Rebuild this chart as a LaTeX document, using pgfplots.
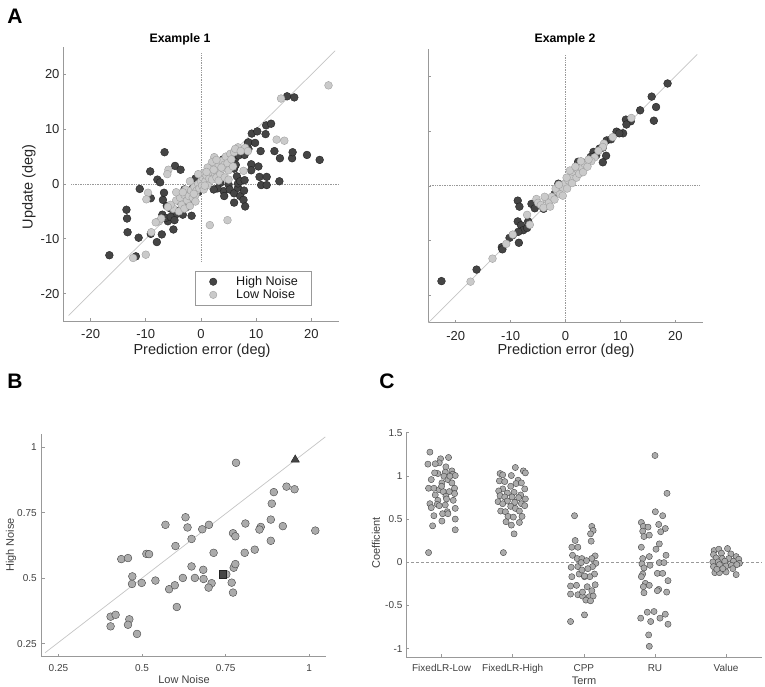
\documentclass[border=0pt]{standalone}
\usepackage{pgfplots}
\pgfplotsset{compat=1.18}
\usepackage{fontspec}
\setmainfont{Liberation Sans}

\definecolor{dk}{HTML}{454545}
\definecolor{dkedge}{HTML}{222222}
\definecolor{lt}{HTML}{CACACA}
\definecolor{ltedge}{HTML}{A0A0A0}
\definecolor{md}{HTML}{ABABAB}
\definecolor{mdedge}{HTML}{444444}
\definecolor{axc}{HTML}{999999}
\definecolor{refl}{HTML}{C4C4C4}

\pgfplotsset{
  mystyle/.style={
    scale only axis,
    axis x line*=bottom, axis y line*=left,
    axis line style={-, axc, line width=0.8pt},
    tick align=inside, major tick length=3pt,
    tick style={axc, line width=0.6pt},
    /pgf/number format/assume math mode=true,
    ticklabel style={text=black!85},
    clip=false,
  },
  hi/.style={only marks, mark=*, mark size=3.9pt, mark options={fill=dk, draw=dkedge, line width=0.4pt}},
  lo/.style={only marks, mark=*, mark size=3.9pt, mark options={fill=lt, draw=ltedge, line width=0.4pt}},
  gp/.style={only marks, mark=*, mark size=3.9pt, mark options={fill=md, draw=mdedge, line width=0.4pt}},
  cp/.style={only marks, mark=*, mark size=3.1pt, mark options={fill=md, draw=mdedge, line width=0.4pt}},
}

\begin{document}
\begin{tikzpicture}[x=1pt,y=1pt]
\useasboundingbox (0,0) rectangle (765,687);

% ---------- Panel A, Example 1 ----------
\begin{axis}[mystyle, at={(63pt,366pt)}, anchor=south west, width=276pt, height=274pt,
  xmin=-25, xmax=25, ymin=-25, ymax=25,
  xtick={-20,-10,0,10,20}, ytick={-20,-10,0,10,20},
  ticklabel style={font=\fontsize{13}{15}\selectfont},
  xticklabel style={yshift=-5pt},
  legend style={at={(axis cs:-1.1,-15.9)}, anchor=north west, draw=axc, line width=0.6pt,
    font=\fontsize{12.6}{14}\selectfont, inner xsep=0pt, inner ysep=4pt, row sep=0.5pt,
    nodes={inner sep=1pt}, text=black!90},
  legend cell align=left,
]
\addplot[refl, line width=0.7pt, forget plot] coordinates {(-24,-24) (24.3,24.3)};
\addplot[axc, densely dotted, line width=0.7pt, forget plot] coordinates {(0,-14.1) (0,24)};
\addplot[axc, densely dotted, line width=0.7pt, forget plot] coordinates {(-23.5,0) (25,0)};
\addplot[hi, legend image code/.code={\path[draw=none,fill=none] (0pt,-1pt) rectangle (40pt,1pt); \path[fill=dk, draw=dkedge, line width=0.4pt] (18pt,0pt) circle (3.7pt);}] table {
x y
-16.6 -13.0
-13.5 -4.7
-13.4 -6.3
-13.3 -8.8
-11.3 -9.8
-11.8 -13.2
-11.1 -0.9
-9.2 2.3
-9.1 -2.6
-9.1 -9.1
-8.0 -10.6
-7.9 0.8
-7.4 0.3
-7.1 -9.2
-7.0 -5.6
-6.9 -2.9
-6.7 -1.6
-6.6 5.8
-6.0 -6.8
-6.4 -6.2
-5.0 -8.3
-4.7 3.3
-3.7 2.6
-5.5 -4.5
-4.2 -3.0
-3.3 -5.6
-1.7 -5.8
-2.5 -2.0
-3.0 -1.0
-1.5 -0.8
-0.5 -1.5
-1.0 1.0
0.5 0.3
1.5 2.5
2.0 3.0
2.5 1.5
3.0 3.8
3.5 0.2
4.0 4.5
4.1 -1.3
4.2 -2.2
5.0 -0.1
5.2 -1.0
6.0 2.8
6.5 1.4
6.2 4.7
6.8 5.2
6.0 -1.7
6.0 -3.4
6.7 -0.7
6.7 0.1
7.1 0.5
7.1 -2.2
7.7 -2.9
7.8 -1.2
7.9 0.7
7.9 5.3
8.0 -4.1
8.5 7.5
8.6 6.4
8.6 7.6
9.8 7.5
9.1 3.6
9.1 2.5
9.2 9.2
10.2 9.6
10.4 3.2
10.6 1.3
10.8 6.0
10.9 -0.2
11.7 9.1
11.8 10.7
11.9 1.3
11.9 -0.2
12.7 11.0
13.3 6.0
14.2 0.5
14.3 4.7
15.6 16.0
16.5 4.7
16.6 5.8
16.9 15.8
19.2 5.3
21.5 4.4
5.5 3.0
6.3 3.5
3.0 -0.8
2.3 -1.0
-2.0 -3.5
-4.5 -5.5
-5.5 -6.0
1.0 0.8
-0.2 0.2
-6.2 -4.0
-4.8 -6.6
-3.8 -4.8
-2.6 -4.2
};
\addlegendentry{High Noise\rule{12pt}{0pt}}
\addplot[lo, legend image code/.code={\path[draw=none,fill=none] (0pt,-1pt) rectangle (40pt,1pt); \path[fill=lt, draw=ltedge, line width=0.4pt] (18pt,0pt) circle (3.7pt);}] table {
x y
23.1 18.0
14.5 15.6
13.7 8.1
15.1 7.9
8.0 6.6
6.7 6.7
7.7 2.4
2.4 4.9
1.6 -7.5
4.8 -6.6
-5.9 2.6
-6.1 1.8
-9.6 -1.6
-9.9 -2.8
-7.6 -6.8
-9.0 -8.8
-10.0 -12.9
-12.3 -13.5
-7.2 -6.3
-8.2 -7.0
-5.0 -4.5
-4.5 -3.0
-4.0 -5.0
-3.8 -2.5
-3.5 -3.8
-3.0 -4.5
-3.0 -2.0
-2.8 -1.0
-2.5 -3.0
-2.2 -2.2
-2.0 -4.0
-1.8 -1.2
-1.5 -2.5
-1.2 -0.5
-1.0 -2.0
-0.8 -1.2
-0.5 0.0
-0.3 -0.8
0.0 0.5
0.2 -0.3
0.3 1.2
0.5 2.0
0.8 0.5
1.0 1.5
1.2 -0.2
1.5 1.0
1.8 2.2
2.0 0.8
2.2 3.0
2.5 2.0
2.8 1.2
3.0 2.5
3.2 3.5
3.5 1.8
3.8 4.2
4.0 2.8
4.2 3.5
4.5 5.0
4.8 3.8
5.0 2.5
5.3 5.5
5.5 4.5
6.0 5.8
6.2 6.4
5.8 3.2
2.0 4.0
1.2 3.0
-1.0 -3.2
-2.0 0.5
-4.5 -1.5
-5.5 -3.8
-6.0 -4.2
-0.5 1.8
0.5 -1.0
3.2 0.6
4.3 1.2
1.0 2.2
2.8 4.4
7.2 6.0
8.5 6.0
5.0 0.8
-3.3 -1.5
-1.3 -1.8
0.7 -0.3
2.3 2.6
3.7 3.0
};
\addlegendentry{Low Noise\rule{12pt}{0pt}}
\end{axis}

% ---------- Panel A, Example 2 ----------
\begin{axis}[mystyle, at={(428.3pt,364.3pt)}, anchor=south west, width=274.4pt, height=273.7pt,
  xmin=-25, xmax=25, ymin=-25, ymax=25,
  xtick={-20,-10,0,10,20}, ytick={-20,-10,0,10,20}, yticklabels={},
  ticklabel style={font=\fontsize{13}{15}\selectfont},
  xticklabel style={yshift=-5pt},
]
\addplot[refl, line width=0.7pt] coordinates {(-25,-25) (24,24)};
\addplot[axc, densely dotted, line width=0.7pt] coordinates {(0,-25) (0,24)};
\addplot[axc, densely dotted, line width=0.7pt] coordinates {(-25,0) (24.5,0)};
\addplot[hi] table {
x y
18.6 18.7
15.7 16.3
16.5 14.4
16.1 11.9
13.6 13.8
11.0 12.1
11.9 11.8
11.1 11.2
9.3 9.9
10.5 9.6
9.8 9.6
7.5 8.3
6.8 7.0
7.4 5.5
6.8 4.3
5.1 6.2
5.6 5.6
4.6 5.3
2.3 4.4
3.8 4.3
-1.3 0.4
-8.7 -2.7
-8.4 -3.8
-6.2 -3.3
-5.6 -4.1
-8.7 -6.5
-8.1 -7.2
-6.8 -6.5
-7.7 -8.1
-7.0 -7.7
-8.6 -8.4
-9.6 -9.0
-10.2 -9.5
-8.5 -10.4
-11.6 -11.2
-11.5 -11.6
-16.2 -15.3
-22.6 -17.4
1.5 2.0
-2.0 -1.5
3.0 3.5
-4.0 -4.2
8.3 8.5
6.2 6.8
};
\addplot[lo] table {
x y
12.0 12.4
8.6 8.9
7.0 7.7
6.8 7.1
6.0 6.4
5.3 5.2
4.7 4.5
3.8 4.1
-5.3 -2.4
-5.0 -3.1
-7.0 -5.3
-6.5 -7.1
-9.6 -8.9
-10.8 -10.6
-13.3 -13.3
-17.3 -17.5
-4.5 -3.5
-4.0 -4.0
-3.5 -2.5
-3.0 -3.0
-2.5 -2.0
-2.0 -2.5
-1.5 -1.0
-1.0 -1.5
-0.5 -0.3
0.0 0.5
0.3 -0.5
0.5 1.0
1.0 1.5
1.2 0.5
1.5 2.5
2.0 1.5
2.2 3.0
2.5 2.2
3.0 3.3
3.2 2.5
3.5 4.0
4.0 3.5
4.2 4.8
-0.5 -1.8
-1.8 -0.5
0.8 2.8
1.8 3.5
-3.8 -2.0
-2.8 -3.8
0.2 1.5
2.8 4.5
-1.2 0.2
};
\end{axis}

% ---------- Panel B ----------
\begin{axis}[mystyle, at={(41.7pt,30.3pt)}, anchor=south west, width=284.3pt, height=222.4pt,
  xmin=0.2, xmax=1.05, ymin=0.2, ymax=1.05,
  xtick={0.25,0.5,0.75,1}, ytick={0.25,0.5,0.75,1},
  xticklabels={0.25,0.5,0.75,1}, yticklabels={0.25,0.5,0.75,1},
  ticklabel style={font=\fontsize{10}{12}\selectfont, text=black!75},
  xticklabel style={yshift=-4pt}, yticklabel style={xshift=-1.5pt},
]
\addplot[refl, line width=0.7pt] coordinates {(0.21,0.215) (1.048,1.04)};
\addplot[gp] table {
x y
0.781 0.941
0.932 0.850
0.956 0.840
0.894 0.829
0.888 0.785
0.630 0.733
0.570 0.704
0.636 0.694
0.680 0.687
0.700 0.704
0.809 0.709
0.855 0.696
0.851 0.686
0.885 0.724
0.921 0.699
1.018 0.682
0.772 0.672
0.779 0.660
0.885 0.643
0.648 0.650
0.600 0.623
0.714 0.597
0.807 0.597
0.837 0.609
0.438 0.573
0.458 0.577
0.513 0.593
0.521 0.592
0.471 0.507
0.470 0.478
0.499 0.482
0.540 0.491
0.581 0.458
0.598 0.473
0.622 0.501
0.648 0.545
0.658 0.501
0.683 0.532
0.684 0.497
0.708 0.481
0.699 0.464
0.752 0.515
0.774 0.540
0.779 0.554
0.768 0.483
0.772 0.445
0.604 0.390
0.406 0.353
0.421 0.360
0.406 0.316
0.462 0.343
0.458 0.322
0.485 0.287
};
\addplot[only marks, mark=square*, mark size=3.6pt, mark options={fill=dk, draw=dkedge}] coordinates {(0.742,0.515)};
\addplot[only marks, mark=triangle*, mark size=4.8pt, mark options={fill=dk, draw=dkedge}] coordinates {(0.958,0.953)};
\end{axis}

% ---------- Panel C ----------
\begin{axis}[mystyle, at={(406pt,29.7pt)}, anchor=south west, width=355.7pt, height=224.6pt,
  xmin=0.5, xmax=5.5, ymin=-1.1, ymax=1.5,
  xtick={1,2,3,4,5}, xticklabels={FixedLR-Low,FixedLR-High,CPP,RU,Value},
  ytick={-1,-0.5,0,0.5,1,1.5},
  ticklabel style={font=\fontsize{10}{12}\selectfont, text=black!75},
  xticklabel style={yshift=-3.5pt},
]
\addplot[axc, densely dashed, line width=0.6pt] coordinates {(0.5,0) (5.5,0)};
\addplot[cp] table {
x y
0.836 1.275
1.098 1.213
0.986 1.198
0.967 1.151
0.808 1.136
0.911 1.140
1.061 1.105
1.145 1.058
1.052 1.043
0.948 1.027
1.155 1.019
1.033 0.996
1.192 1.004
1.089 0.957
0.855 0.957
1.005 0.919
1.145 0.919
0.817 0.857
0.892 0.857
0.967 0.841
1.183 0.857
1.023 0.818
1.108 0.818
0.911 0.779
1.183 0.795
1.061 0.764
0.948 0.717
1.070 0.733
1.164 0.717
0.836 0.678
0.939 0.671
1.052 0.663
1.192 0.624
0.855 0.632
1.080 0.585
1.014 0.562
0.892 0.539
1.089 0.562
0.967 0.655
1.192 0.500
1.005 0.477
0.874 0.422
1.192 0.376
0.817 0.112
0.902 1.035
1.117 0.996
1.000 0.880
2.037 1.097
2.150 1.058
2.178 1.035
1.822 1.027
1.859 1.012
1.981 1.004
1.813 0.942
2.075 0.950
1.888 0.934
1.972 0.880
2.047 0.911
2.122 0.919
1.859 0.849
1.803 0.826
1.925 0.802
2.019 0.810
2.169 0.849
2.112 0.779
1.822 0.771
1.888 0.756
1.991 0.756
2.084 0.748
2.178 0.733
1.794 0.702
1.925 0.709
2.028 0.694
1.859 0.678
2.122 0.678
2.169 0.655
1.972 0.647
2.037 0.624
1.831 0.593
1.897 0.585
2.094 0.593
1.934 0.531
2.131 0.531
2.009 0.523
1.906 0.469
2.094 0.461
1.981 0.430
2.019 0.329
1.869 0.112
2.869 0.539
2.878 0.252
2.831 0.174
2.916 0.174
2.841 0.081
2.906 0.043
2.972 0.043
2.822 -0.058
2.916 -0.050
2.831 -0.167
2.934 -0.136
3.009 -0.167
2.813 -0.275
2.897 -0.267
2.813 -0.368
2.916 -0.376
2.981 -0.391
2.813 -0.686
3.009 -0.609
3.112 0.415
3.131 0.368
3.094 0.329
3.103 0.244
3.159 0.074
3.112 0.043
3.037 0.019
2.963 -0.004
3.169 -0.012
3.122 -0.050
3.056 -0.074
2.972 -0.089
3.150 -0.136
3.084 -0.167
3.009 -0.159
3.159 -0.260
3.047 -0.283
3.112 -0.329
2.981 -0.345
3.075 -0.399
3.131 -0.391
3.028 -0.438
3.094 -0.446
4.000 1.236
4.169 0.798
4.005 0.585
4.108 0.539
3.808 0.461
3.836 0.415
4.052 0.438
4.145 0.391
3.902 0.407
3.827 0.360
4.080 0.353
3.845 0.298
3.920 0.314
4.061 0.213
4.014 0.151
3.808 0.174
4.155 0.081
3.827 0.043
3.920 0.066
4.061 -0.004
4.126 -0.004
3.817 -0.019
3.845 -0.066
3.930 -0.035
4.033 -0.128
4.108 -0.128
4.183 -0.213
3.827 -0.136
3.808 -0.167
3.864 -0.244
3.836 -0.283
3.920 -0.267
4.052 -0.314
4.033 -0.329
4.164 -0.345
3.845 -0.353
3.892 -0.578
3.986 -0.570
3.799 -0.647
3.939 -0.686
4.070 -0.647
4.145 -0.601
4.183 -0.717
3.911 -0.841
3.920 -0.973
4.831 0.136
4.897 0.151
5.019 0.159
4.822 0.089
4.934 0.105
5.066 0.097
5.141 0.066
5.178 0.035
4.859 0.050
4.944 0.043
5.037 0.043
4.813 0.004
4.888 0.004
4.981 0.012
5.103 0.012
5.187 -0.012
4.822 -0.050
4.906 -0.027
5.000 -0.043
5.075 -0.035
5.150 -0.027
4.841 -0.120
4.906 -0.120
5.000 -0.112
5.141 -0.143
4.953 -0.074
4.869 -0.081
5.094 -0.074
};
\end{axis}

% ---------- labels ----------
\node[font=\fontsize{21}{24}\selectfont\bfseries] at (15,671) {A};
\node[font=\fontsize{21}{24}\selectfont\bfseries] at (15,306) {B};
\node[font=\fontsize{21}{24}\selectfont\bfseries] at (387,306) {C};
\node[font=\fontsize{12.3}{14}\selectfont\bfseries] at (180,648) {Example 1};
\node[font=\fontsize{12.3}{14}\selectfont\bfseries] at (565,648) {Example 2};
\node[font=\fontsize{14.5}{16}\selectfont, rotate=90, text=black!85] at (29,500) {Update (deg)};
\node[font=\fontsize{14.5}{16}\selectfont, text=black!85] at (202,336) {Prediction error (deg)};
\node[font=\fontsize{14.5}{16}\selectfont, text=black!85] at (566,336) {Prediction error (deg)};
\node[font=\fontsize{11}{13}\selectfont, rotate=90, text=black!75] at (11,142) {High Noise};
\node[font=\fontsize{11}{13}\selectfont, text=black!75] at (184,7) {Low Noise};
\node[font=\fontsize{11}{13}\selectfont, rotate=90, text=black!75] at (376,144) {Coefficient};
\node[font=\fontsize{11}{13}\selectfont, text=black!75] at (584,6) {Term};
\end{tikzpicture}
\end{document}
